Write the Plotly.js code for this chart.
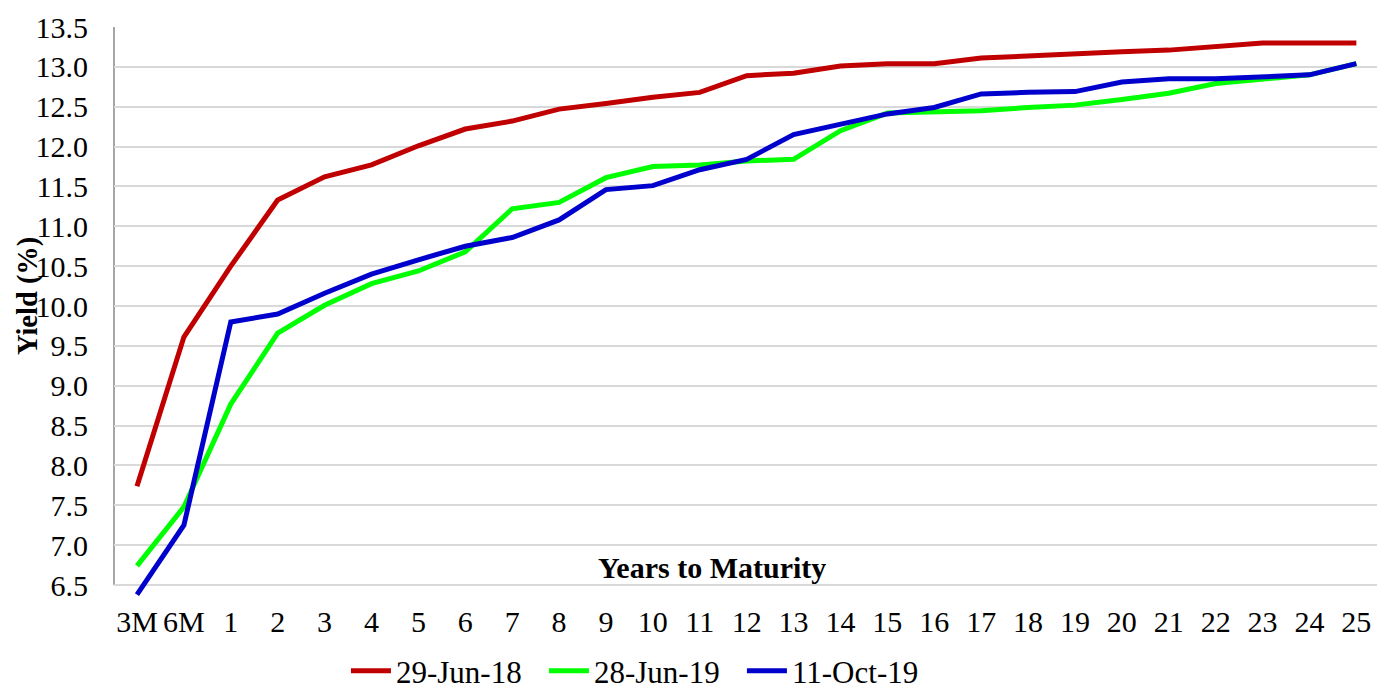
<!DOCTYPE html>
<html>
<head>
<meta charset="utf-8">
<script src="https://cdn.plot.ly/plotly-3.0.1.min.js"></script>
<style>html,body{margin:0;padding:0;background:#fff;}#chart{width:1377px;height:692px;}</style>
</head>
<body>
<div id="chart"></div>
<script>
const maturities = ["3M","6M","1","2","3","4","5","6","7","8","9","10","11","12","13","14","15","16","17","18","19","20","21","22","23","24","25"];
const yieldJun18 = [7.74,9.61,10.50,11.33,11.62,11.77,12.01,12.22,12.32,12.47,12.54,12.62,12.68,12.89,12.92,13.01,13.04,13.04,13.11,13.14,13.17,13.19,13.21,13.25,13.30,13.30,13.30];
const yieldJun19 = [6.74,7.48,8.77,9.66,10.01,10.28,10.44,10.68,11.22,11.30,11.61,11.75,11.77,11.82,11.84,12.20,12.42,12.43,12.45,12.49,12.52,12.59,12.67,12.79,12.85,12.90,13.04];
const yieldOct19 = [6.38,7.25,9.80,9.90,10.16,10.40,10.58,10.75,10.86,11.08,11.46,11.51,11.71,11.84,12.15,12.28,12.41,12.49,12.66,12.68,12.69,12.81,12.85,12.85,12.88,12.90,13.04];
const seriesNames = ["29-Jun-18","28-Jun-19","11-Oct-19"];
const seriesColors = ["#C00000","#00FF00","#0000CC"];
const yTicks = [6.5,7.0,7.5,8.0,8.5,9.0,9.5,10.0,10.5,11.0,11.5,12.0,12.5,13.0,13.5];

const FONT = "Liberation Serif";
const series = [yieldJun18, yieldJun19, yieldOct19];
const traces = series.map((vals, i) => ({
  type: "scatter", mode: "lines", x: maturities, y: vals, name: seriesNames[i],
  line: {color: seriesColors[i], width: 5}, hoverinfo: "x+y+name"
}));

const layout = {
  width: 1377, height: 692,
  margin: {l: 114, r: 0, t: 27, b: 0, autoexpand: false},
  paper_bgcolor: "#fff", plot_bgcolor: "#fff",
  font: {family: FONT, size: 30, color: "#000"},
  showlegend: true,
  legend: {orientation: "h", x: 0.4188, xanchor: "center", y: -0.009, yanchor: "bottom",
           font: {family: FONT, size: 31, color: "#000"}, itemwidth: 40, entrywidth: 143, tracegroupgap: 0, bgcolor: "rgba(0,0,0,0)"},
  xaxis: {type: "category", range: [-0.49, 26.44], showgrid: false, zeroline: false, showline: false,
          ticks: "", tickfont: {family: FONT, size: 30, color: "#000"}, ticklabelstandoff: 0, fixedrange: true},
  yaxis: {domain: [0.13684, 1], range: [6.3, 13.5], tickmode: "array", tickvals: yTicks, ticktext: yTicks.map(v => v.toFixed(1)),
          showgrid: true, gridcolor: "#d9d9d9", gridwidth: 2, zeroline: false, showline: false,
          ticks: "", tickfont: {family: FONT, size: 30, color: "#000"}, ticklabelstandoff: 25, fixedrange: true},
  shapes: [{type: "line", xref: "paper", yref: "y", x0: 0, x1: 0, y0: yTicks[0], y1: yTicks[yTicks.length-1],
            line: {color: "#a6a6a6", width: 2}, layer: "below"}],
  annotations: [
    {text: "<b>Years to Maturity</b>", xref: "paper", yref: "paper", x: 0.4735, y: 0.1865,
     xanchor: "center", yanchor: "middle", showarrow: false, font: {family: FONT, size: 30, color: "#000"}},
    {text: "<b>Yield (%)</b>", xref: "paper", yref: "paper", x: -0.068, y: 0.5955, textangle: -90,
     xanchor: "center", yanchor: "middle", showarrow: false, font: {family: FONT, size: 28.5, color: "#000"}}
  ]
};
Plotly.newPlot("chart", traces, layout, {displayModeBar: false, staticPlot: true});
</script>
</body>
</html>
